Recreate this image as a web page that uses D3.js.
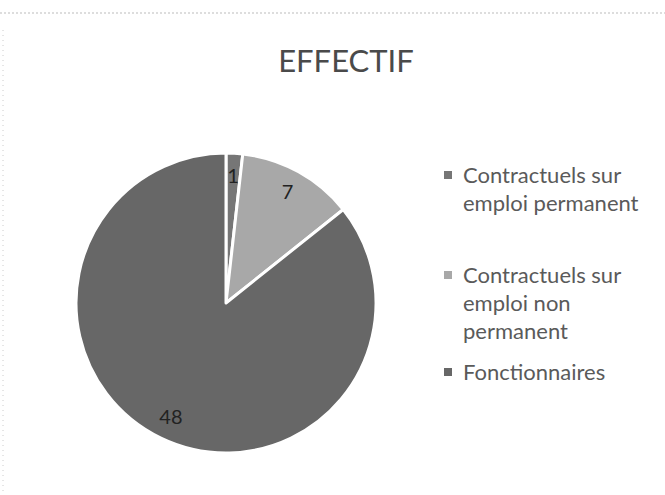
<!DOCTYPE html>
<html>
<head>
<meta charset="utf-8">
<script src="https://cdn.jsdelivr.net/npm/d3@7"></script>
<style>
  body { margin: 0; background: #fff; }
  svg { display: block; }
</style>
</head>
<body>
<div id="viz"></div>
<script>
// chart values
const categories = ["Contractuels sur emploi permanent", "Contractuels sur emploi non permanent", "Fonctionnaires"];
const values = [1, 7, 48];
const legendLines = [
  ["Contractuels sur", "emploi permanent"],
  ["Contractuels sur", "emploi non", "permanent"],
  ["Fonctionnaires"]
];
const title = "EFFECTIF";

const width = 665;
const height = 495;

const svg = d3.select('#viz')
  .append("svg")
  .attr("width", width)
  .attr("height", height);

// faint scan edges
svg.append("line")
  .attr("x1", 0).attr("x2", width)
  .attr("y1", 13).attr("y2", 13)
  .attr("stroke", "#bbb").attr("stroke-width", 1)
  .attr("stroke-dasharray", "2,2");
svg.append("line")
  .attr("x1", 3).attr("x2", 3)
  .attr("y1", 30).attr("y2", height)
  .attr("stroke", "#ccc").attr("stroke-width", 1)
  .attr("stroke-dasharray", "1,4");

svg.append("text")
  .attr("x", 346)
  .attr("y", 72)
  .attr("text-anchor", "middle")
  .attr("font-family", "Lato, 'Open Sans', sans-serif")
  .attr("font-size", 31)
  .attr("fill", "#4a4a4a")
  .text(title);

const color = d3.scaleOrdinal()
  .domain(categories)
  .range(["#767676", "#a8a8a8", "#676767"]);

const cx = 226, cy = 303, radius = 150;

const pie = d3.pie().sort(null).value(d => d.value);
const data = categories.map((c, i) => ({ name: c, value: values[i] }));
const arcs = pie(data);

const arc = d3.arc().innerRadius(0).outerRadius(radius);
const labelArc = d3.arc().innerRadius(127).outerRadius(127);

const g = svg.append("g")
  .attr("transform", `translate(${cx},${cy})`);

g.selectAll(".slice")
  .data(arcs)
  .enter().append("path")
  .attr("class", "slice")
  .attr("d", arc)
  .attr("fill", d => color(d.data.name))
  .attr("stroke", "#fff")
  .attr("stroke-width", 3)
  .attr("stroke-linejoin", "round");

g.selectAll(".lbl")
  .data(arcs)
  .enter().append("text")
  .attr("class", "lbl")
  .attr("transform", d => `translate(${labelArc.centroid(d)})`)
  .attr("text-anchor", "middle")
  .attr("dy", "0.35em")
  .attr("font-family", "Lato, 'Open Sans', sans-serif")
  .attr("font-size", 20)
  .attr("fill", "#222")
  .text(d => d.data.value);

// legend
const legendY = [175, 275, 372];
const lineGap = 28;

const legend = svg.append("g");
const items = legend.selectAll(".item")
  .data(categories)
  .enter().append("g")
  .attr("class", "item")
  .attr("transform", (d, i) => `translate(448,${legendY[i]})`);

items.append("rect")
  .attr("x", -4).attr("y", -4)
  .attr("width", 8).attr("height", 8)
  .attr("fill", d => color(d));

items.each(function (d, i) {
  const t = d3.select(this).append("text")
    .attr("font-family", "Lato, 'Open Sans', sans-serif")
    .attr("font-size", 22)
    .attr("fill", "#5a5a5a");
  legendLines[i].forEach((ln, j) => {
    t.append("tspan")
      .attr("x", 15)
      .attr("y", j * lineGap)
      .attr("dy", "0.35em")
      .text(ln);
  });
});
</script>
</body>
</html>
